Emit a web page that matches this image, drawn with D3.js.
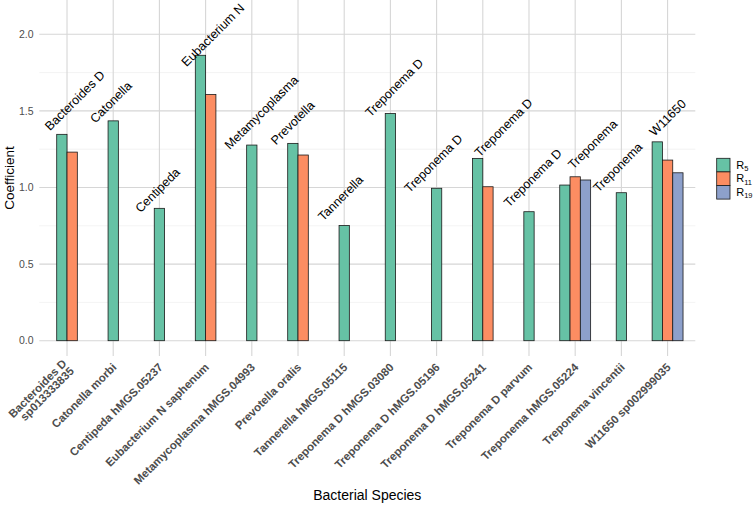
<!DOCTYPE html>
<html>
<head>
<meta charset="utf-8">
<script src="https://cdn.jsdelivr.net/npm/d3@7"></script>
<style>
  html, body { margin: 0; padding: 0; background: #ffffff; }
  svg { display: block; font-family: "Liberation Sans", Arial, sans-serif; }
</style>
</head>
<body>
<svg id="chart" width="754" height="507"></svg>
<script>
// ---- data ----
const categories = [
  "Bacteroides D\nsp013333835", "Catonella morbi", "Centipeda hMGS.05237",
  "Eubacterium N saphenum", "Metamycoplasma hMGS.04993", "Prevotella oralis",
  "Tannerella hMGS.05115", "Treponema D hMGS.03080", "Treponema D hMGS.05196",
  "Treponema D hMGS.05241", "Treponema D parvum", "Treponema hMGS.05224",
  "Treponema vincentii", "W11650 sp002999035"
];
const genusLabels = [
  "Bacteroides D", "Catonella", "Centipeda", "Eubacterium N", "Metamycoplasma",
  "Prevotella", "Tannerella", "Treponema D", "Treponema D", "Treponema D",
  "Treponema D", "Treponema", "Treponema", "W11650"
];
const seriesNames = ["R5", "R11", "R19"];
const seriesSub = ["5", "11", "19"];
const r5  = [1.347, 1.435, 0.864, 1.863, 1.277, 1.288, 0.752, 1.483, 0.995, 1.190, 0.842, 1.016, 0.966, 1.298];
const r11 = [1.231, null, null, 1.607, null, 1.212, null, null, null, 1.005, null, 1.070, null, 1.179];
const r19 = [null, null, null, null, null, null, null, null, null, null, null, 1.049, null, 1.096];
const yTicks = [0, 0.5, 1.0, 1.5, 2.0];
const yMinorTicks = [0.25, 0.75, 1.25, 1.75];
const labelNudge = [[-17,-3],[-18,3],[-19,5],[-19,12],[-22,5],[-22,2],[-21,-4],[-20,4],[-27,5],[-3,-1],[-20,-4],[-2,-7],[-23,0],[-13,-5]];

const colors = ["#66c2a5", "#fc8d62", "#8da0cb"];
const seriesValues = [r5, r11, r19];

// ---- layout ----
const svg = d3.select("#chart");
const panel = { left: 39.3, right: 695.3, top: 0, bottom: 356 };

// ggplot discrete expansion 0.6 => centres land on 67 ... 667.6
const step = (panel.right - panel.left) / (categories.length - 1 + 1.2);
const x = d3.scaleBand()
  .domain(categories)
  .range([panel.left + 0.6 * step - step / 2, panel.right - 0.6 * step + step / 2])
  .paddingInner(0).paddingOuter(0);

const y = d3.scaleLinear().domain([0, 2]).range([340.7, 34.3]);

const g = svg.append("g");

// minor grid
g.selectAll("line.minor").data(yMinorTicks).join("line")
  .attr("x1", panel.left).attr("x2", panel.right)
  .attr("y1", d => y(d)).attr("y2", d => y(d))
  .attr("stroke", "#ebebeb").attr("stroke-width", 0.6);

// major grid
g.selectAll("line.majorY").data(yTicks).join("line")
  .attr("x1", panel.left).attr("x2", panel.right)
  .attr("y1", d => y(d)).attr("y2", d => y(d))
  .attr("stroke", "#d6d6d6").attr("stroke-width", 1.1);

g.selectAll("line.majorX").data(categories).join("line")
  .attr("x1", d => x(d) + x.bandwidth() / 2).attr("x2", d => x(d) + x.bandwidth() / 2)
  .attr("y1", panel.top).attr("y2", panel.bottom)
  .attr("stroke", "#d6d6d6").attr("stroke-width", 1.1);

// bars
const barW = x.bandwidth() * 0.223;
const bars = [];
categories.forEach((c, ci) => {
  const present = [];
  seriesValues.forEach((arr, si) => { if (arr[ci] != null) present.push(si); });
  const n = present.length;
  const cx = x(c) + x.bandwidth() / 2;
  present.forEach((si, k) => {
    bars.push({ c, si, v: seriesValues[si][ci], x0: cx + (k - n / 2) * barW });
  });
});
g.selectAll("rect.bar").data(bars).join("rect")
  .attr("x", d => d.x0)
  .attr("width", barW)
  .attr("y", d => y(d.v))
  .attr("height", d => y(0) - y(d.v))
  .attr("fill", d => colors[d.si])
  .attr("stroke", "#1a1a1a")
  .attr("stroke-width", 0.8);

// genus labels above bars
categories.forEach((c, ci) => {
  const top = d3.max(seriesValues, arr => arr[ci]);
  const cx = x(c) + x.bandwidth() / 2 + labelNudge[ci][0];
  const cy = y(top) + labelNudge[ci][1];
  g.append("text")
    .attr("transform", `translate(${cx},${cy}) rotate(-45)`)
    .attr("text-anchor", "start")
    .attr("font-size", 12.5)
    .attr("fill", "#000")
    .text(genusLabels[ci]);
});

// y axis tick labels
g.selectAll("text.ytick").data(yTicks).join("text")
  .attr("x", 33.5).attr("y", d => y(d))
  .attr("dy", "0.35em")
  .attr("text-anchor", "end")
  .attr("font-size", 10.5)
  .attr("fill", "#4d4d4d")
  .text(d => d3.format(".1f")(d));

// x axis tick labels (bold, rotated)
categories.forEach(c => {
  const lines = c.split("\n");
  const cx = x(c) + x.bandwidth() / 2 + 4;
  const cy = 368;
  const lh = 10.5;
  const t = g.append("text")
    .attr("transform", `translate(${cx},${cy}) rotate(-45)`)
    .attr("text-anchor", "end")
    .attr("font-size", 11.4)
    .attr("font-weight", "bold")
    .attr("fill", "#4d4d4d");
  lines.forEach((ln, i) => {
    t.append("tspan")
      .attr("x", 0)
      .attr("y", (i - (lines.length - 1) / 2) * lh)
      .text(ln);
  });
});

// axis titles
g.append("text")
  .attr("x", (panel.left + panel.right) / 2).attr("y", 500)
  .attr("text-anchor", "middle")
  .attr("font-size", 14)
  .attr("fill", "#000")
  .text("Bacterial Species");

g.append("text")
  .attr("transform", `translate(14,${(panel.top + panel.bottom) / 2}) rotate(-90)`)
  .attr("text-anchor", "middle")
  .attr("font-size", 13.5)
  .attr("fill", "#000")
  .text("Coefficient");

// legend
const leg = g.append("g").attr("transform", "translate(716.7,158.3)");
const keyH = 13.6;
seriesNames.forEach((s, i) => {
  leg.append("rect")
    .attr("x", 0).attr("y", i * keyH)
    .attr("width", 13.3).attr("height", keyH)
    .attr("fill", colors[i])
    .attr("stroke", "#1a1a1a").attr("stroke-width", 0.8);
  const t = leg.append("text")
    .attr("x", 19.5).attr("y", i * keyH + keyH / 2 + 3.5)
    .attr("font-size", 11)
    .attr("fill", "#000");
  t.append("tspan").text("R");
  t.append("tspan").attr("font-size", 7.5).attr("dy", 2.5).text(seriesSub[i]);
});
</script>
</body>
</html>
